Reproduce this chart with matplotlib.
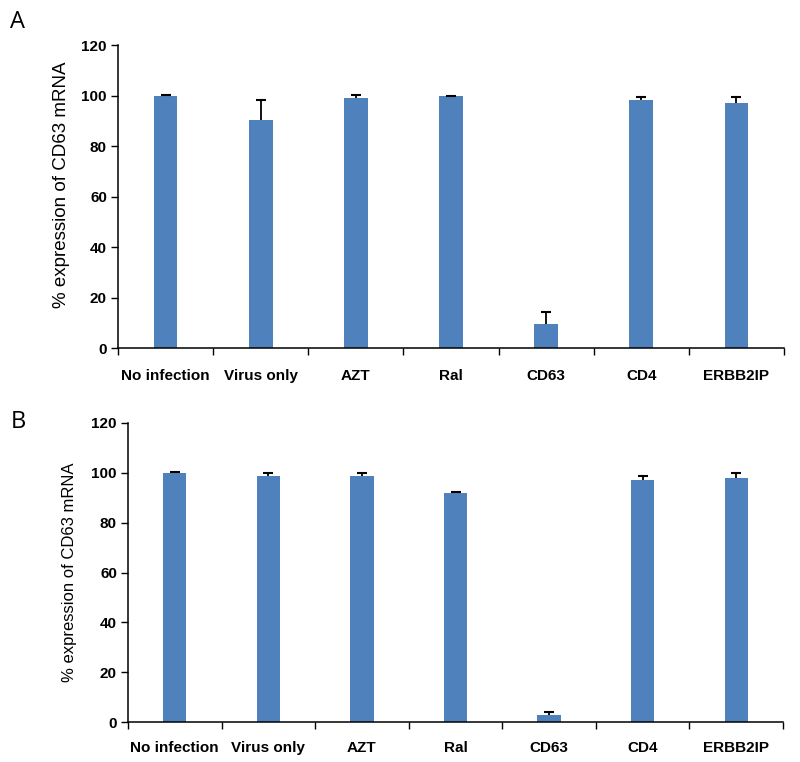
import matplotlib
matplotlib.use("Agg")
import matplotlib.pyplot as plt
import numpy as np

categories = ["No infection", "Virus only", "AZT", "Ral", "CD63", "CD4", "ERBB2IP"]
values_a = [100.0, 90.1, 99.1, 99.7, 9.6, 98.2, 97.1]
errors_a = [0.2, 8.1, 1.2, 0.3, 4.7, 1.3, 2.2]
values_b = [100.0, 98.9, 98.7, 92.1, 2.7, 97.2, 97.9]
errors_b = [0.2, 1.2, 1.3, 0.3, 1.3, 1.5, 2.2]
yticks = [0, 20, 40, 60, 80, 100, 120]
ylabel = "% expression of CD63 mRNA"
panel_letters = ["A", "B"]

plt.rcParams['font.family'] = ['Liberation Sans', 'DejaVu Sans']

W, H = 800, 762
fig = plt.figure(figsize=(W / 100, H / 100), dpi=100)

# axes rectangles in pixels: left, right, top, bottom
rects = [(118, 784, 45, 348), (128, 783, 423, 722)]
label_sizes = [13.5, 12]
label_x = [70, 77]
label_y = [185, 572]
xpads = [15, 14]
letter_pos = [(10, 28), (11, 428)]
datasets = [(values_a, errors_a), (values_b, errors_b)]

color = "#4F81BD"
for i, ((l, r, t, b), (vals, errs)) in enumerate(zip(rects, datasets)):
    ax = fig.add_axes([l / W, 1 - b / H, (r - l) / W, (b - t) / H])
    x = np.arange(len(categories))
    ax.bar(x, vals, width=0.25, color=color, zorder=2)
    _, caps, _ = ax.errorbar(x, vals, yerr=[np.zeros(len(errs)), errs], fmt="none",
                             ecolor="black", elinewidth=1.3, capsize=3.5, capthick=1.5,
                             zorder=3)
    caps[0].set_visible(False)
    ax.set_xlim(-0.5, len(categories) - 0.5)
    ax.set_ylim(0, 120)
    ax.set_yticks(yticks)
    ax.set_yticklabels([str(v) for v in yticks], fontsize=11, fontweight="bold")
    ax.set_xticks(x)
    ax.set_xticklabels(categories, fontsize=11, fontweight="bold")
    ax.tick_params(axis="x", which="major", length=0, pad=xpads[i])
    ax.set_xticks(np.arange(-0.5, len(categories)), minor=True)
    ax.tick_params(axis="x", which="minor", length=5, width=1, direction="out")
    ax.tick_params(axis="y", which="major", length=5, width=1, direction="out", pad=3)
    for s in ["top", "right"]:
        ax.spines[s].set_visible(False)
    for s in ["left", "bottom"]:
        ax.spines[s].set_linewidth(1.1)
    ax.set_ylabel(ylabel, fontsize=label_sizes[i])
    ax.yaxis.set_label_coords((label_x[i] - l) / (r - l), (b - label_y[i]) / (b - t))
    fig.text(letter_pos[i][0] / W, 1 - letter_pos[i][1] / H, panel_letters[i],
             fontsize=17, family=['Open Sans', 'DejaVu Sans'], ha="left", va="baseline")

fig.savefig("out.png", dpi=100)
